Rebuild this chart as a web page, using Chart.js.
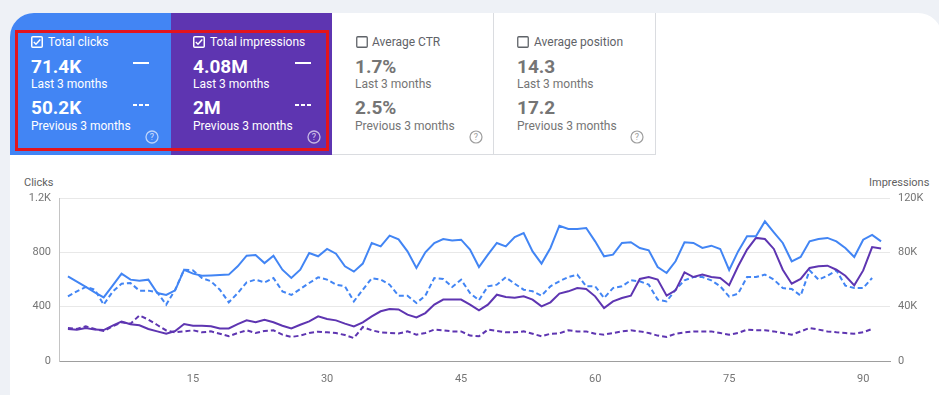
<!DOCTYPE html>
<html>
<head>
<meta charset="utf-8">
<script src="https://cdn.jsdelivr.net/npm/chart.js@4.4.1/dist/chart.umd.min.js"></script>
<style>
  html, body { margin: 0; padding: 0; }
  body {
    width: 939px; height: 395px; position: relative; overflow: hidden;
    background: #eef1f6; font-family: Roboto, "Noto Sans", sans-serif;
  }
  .card { position: absolute; left: 10px; top: 13px; width: 932px; height: 400px;
    background: #fff; border-radius: 24px 24px 0 0; }
  .tile { position: absolute; top: 13px; height: 142px; box-sizing: border-box; }
  .tile.blue { left: 10px; width: 161px; background: #4285f4; border-top-left-radius: 24px; color: #fff; }
  .tile.purple { left: 171px; width: 161px; background: #5e35b1; color: #fff; }
  .tile.grey { width: 162px; background: #fff; border-right: 1px solid #dadce0;
    border-bottom: 1px solid #dadce0; color: #757575; }
  .tile > * { position: absolute; white-space: nowrap; }
  .cb { top: 23px; width: 12px; height: 12px; }
  .ttl { top: 19px; line-height: 20px; font-size: 12px; }
  .val { line-height: 20px; font-size: 19px; font-weight: 700; }
  .sub { line-height: 20px; font-size: 12px; }
  .v1 { top: 44px; } .s1 { top: 61px; } .v2 { top: 85px; } .s2 { top: 103px; }
  .grey .ttl { color: #5f6368; }
  .line { left: 123px; top: 49px; width: 16px; height: 2px; background: #fff; }
  .dash { left: 123px; top: 91px; width: 16px; height: 2px;
    background: repeating-linear-gradient(90deg, #fff 0 4px, transparent 4px 6px); }
  .help { top: 117px; width: 14px; height: 14px; }
  .redbox { position: absolute; left: 15px; top: 30px; width: 314px; height: 121px;
    border: 3px solid #e3141c; box-sizing: border-box; }
  .axtitle { position: absolute; top: 175px; line-height: 16px; font-size: 11px; color: #616161; }
  #wrap { position: absolute; left: 0; top: 160px; width: 939px; height: 235px; }
</style>
</head>
<body>
<div class="card"></div>

<div class="tile blue">
  <svg class="cb" style="left:21px" viewBox="0 0 12 12"><rect x="0.75" y="0.75" width="10.5" height="10.5" rx="1" fill="none" stroke="#fff" stroke-width="1.5"/><polyline points="2.8,6 5,8.2 9.3,3.6" fill="none" stroke="#fff" stroke-width="1.5"/></svg>
  <div class="ttl" style="left:38px">Total clicks</div>
  <div class="val v1" style="left:21px">71.4K</div>
  <div class="line"></div>
  <div class="sub s1" style="left:21px">Last 3 months</div>
  <div class="val v2" style="left:21px">50.2K</div>
  <div class="dash"></div>
  <div class="sub s2" style="left:21px">Previous 3 months</div>
  <svg class="help" style="left:135px" viewBox="0 0 14 14"><circle cx="7" cy="7" r="6" fill="none" stroke="rgba(255,255,255,0.65)" stroke-width="1.3"/><text x="7" y="10.3" font-size="9" text-anchor="middle" fill="rgba(255,255,255,0.75)" font-family="Roboto">?</text></svg>
</div>

<div class="tile purple">
  <svg class="cb" style="left:22px" viewBox="0 0 12 12"><rect x="0.75" y="0.75" width="10.5" height="10.5" rx="1" fill="none" stroke="#fff" stroke-width="1.5"/><polyline points="2.8,6 5,8.2 9.3,3.6" fill="none" stroke="#fff" stroke-width="1.5"/></svg>
  <div class="ttl" style="left:39px">Total impressions</div>
  <div class="val v1" style="left:22px">4.08M</div>
  <div class="line" style="left:124px"></div>
  <div class="sub s1" style="left:22px">Last 3 months</div>
  <div class="val v2" style="left:22px">2M</div>
  <div class="dash" style="left:124px"></div>
  <div class="sub s2" style="left:22px">Previous 3 months</div>
  <svg class="help" style="left:136px" viewBox="0 0 14 14"><circle cx="7" cy="7" r="6" fill="none" stroke="rgba(255,255,255,0.65)" stroke-width="1.3"/><text x="7" y="10.3" font-size="9" text-anchor="middle" fill="rgba(255,255,255,0.75)" font-family="Roboto">?</text></svg>
</div>

<div class="tile grey" style="left:332px">
  <svg class="cb" style="left:24px" viewBox="0 0 12 12"><rect x="0.75" y="0.75" width="10.5" height="10.5" rx="1" fill="none" stroke="#5f6368" stroke-width="1.3"/></svg>
  <div class="ttl" style="left:40px">Average CTR</div>
  <div class="val v1" style="left:23px">1.7%</div>
  <div class="sub s1" style="left:23px">Last 3 months</div>
  <div class="val v2" style="left:23px">2.5%</div>
  <div class="sub s2" style="left:23px">Previous 3 months</div>
  <svg class="help" style="left:137px" viewBox="0 0 14 14"><circle cx="7" cy="7" r="6" fill="none" stroke="#9e9e9e" stroke-width="1.2"/><text x="7" y="10.3" font-size="9" text-anchor="middle" fill="#9e9e9e" font-family="Roboto">?</text></svg>
</div>

<div class="tile grey" style="left:494px">
  <svg class="cb" style="left:23px" viewBox="0 0 12 12"><rect x="0.75" y="0.75" width="10.5" height="10.5" rx="1" fill="none" stroke="#5f6368" stroke-width="1.3"/></svg>
  <div class="ttl" style="left:40px">Average position</div>
  <div class="val v1" style="left:23px">14.3</div>
  <div class="sub s1" style="left:23px">Last 3 months</div>
  <div class="val v2" style="left:23px">17.2</div>
  <div class="sub s2" style="left:23px">Previous 3 months</div>
  <svg class="help" style="left:136px" viewBox="0 0 14 14"><circle cx="7" cy="7" r="6" fill="none" stroke="#9e9e9e" stroke-width="1.2"/><text x="7" y="10.3" font-size="9" text-anchor="middle" fill="#9e9e9e" font-family="Roboto">?</text></svg>
</div>

<div class="redbox"></div>

<div class="axtitle" style="left:24px">Clicks</div>
<div class="axtitle" style="left:869px">Impressions</div>

<div id="wrap"><canvas id="perf"></canvas></div>

<script>
// Daily values
const clicks = [623, 585, 545, 505, 468, 555, 643, 599, 591, 599, 500, 486, 520, 672, 643, 628, 630, 633, 636, 697,
  775, 780, 721, 775, 672, 611, 672, 795, 771, 825, 790, 697, 658, 717, 869, 844, 923, 895, 807, 685,
  800, 869, 898, 888, 893, 820, 692, 783, 869, 844, 913, 942, 807, 717, 832, 996, 972, 972, 979, 881,
  771, 783, 869, 874, 832, 815, 692, 648, 734, 874, 869, 832, 849, 825, 670, 807, 918, 918, 1028, 947,
  869, 734, 766, 881, 898, 906, 881, 832, 766, 893, 928, 881];

const prevClicks = [476, 513, 545, 525, 415, 510, 569, 574, 518, 518, 505, 415, 525, 672, 667, 611, 587, 525, 432, 500,
  579, 599, 579, 611, 513, 486, 530, 574, 616, 599, 562, 550, 439, 525, 609, 599, 562, 481, 481, 427,
  481, 611, 604, 545, 599, 500, 447, 550, 562, 616, 569, 525, 513, 481, 550, 587, 618, 636, 550, 550,
  464, 537, 550, 594, 587, 562, 452, 439, 525, 594, 618, 618, 594, 550, 474, 496, 618, 618, 636, 599,
  537, 530, 481, 667, 599, 628, 667, 555, 537, 537, 611];

const impressions = [23600, 23100, 24300, 23100, 22800, 26000, 29000, 27000, 26300, 23600, 21800, 20100, 22100, 27200, 26000, 26000, 25500, 24000, 24000, 27200,
  29900, 28500, 30400, 28500, 26000, 24000, 26700, 29200, 32900, 30900, 29900, 27500, 25500, 28500, 32900, 36600, 38300, 38000, 34100, 32100,
  35300, 41500, 45200, 45200, 45200, 41500, 37300, 41500, 48800, 47100, 46600, 47600, 45200, 40200, 43200, 49600, 51300, 53700, 53000, 47600,
  39000, 43900, 46400, 48100, 60400, 61800, 59900, 48100, 52000, 65300, 61800, 63600, 61800, 61100, 55800, 69700, 82000, 90600, 89800, 82500,
  67200, 56900, 60400, 68500, 69700, 70200, 67200, 62800, 55700, 66700, 83900, 82900];

const prevImpressions = [24300, 23600, 25500, 23600, 22100, 25500, 28500, 27500, 33500, 30500, 26500, 22500, 21100, 21800, 22600, 21100, 21800, 20100, 18200, 20600,
  22600, 20600, 22100, 22600, 19400, 17700, 18700, 20600, 21600, 21100, 20600, 19100, 16900, 25000, 22600, 21100, 20600, 20300, 21800, 19400,
  20600, 23100, 22600, 21800, 21800, 18700, 18200, 23100, 22100, 21100, 21100, 21800, 20100, 18200, 20100, 20400, 22600, 21800, 21800, 20100,
  19400, 20600, 21800, 22600, 21800, 20600, 18700, 17700, 20100, 21100, 21800, 21800, 21800, 20600, 19400, 20600, 23100, 22600, 22600, 21800,
  20600, 19400, 21800, 24300, 23100, 21800, 21100, 20600, 20100, 21100, 23600];

// day index on the x axis (1..92)
const days = clicks.map((_, i) => i + 1);

const clickTicks = [0, 400, 800, 1200];
const clickTickLabels = ['0', '400', '800', '1.2K'];
const imprTicks = [0, 40000, 80000, 120000];
const imprTickLabels = ['0', '40K', '80K', '120K'];

const BLUE = '#4285f4';
const PURPLE = '#5e35b1';

function series(values, color, axis, dashed, order) {
    return {
        data: values.map((v, i) => ({ x: days[i], y: v })),
        borderColor: color,
        borderWidth: 2,
        borderDash: dashed ? [5, 3] : [],
        pointRadius: 0,
        tension: 0,
        fill: false,
        yAxisID: axis,
        order: order
    };
}

const tickFont = { family: 'Roboto', size: 11 };

new Chart(document.getElementById('perf').getContext('2d'), {
    type: 'line',
    data: {
        datasets: [
            series(clicks, BLUE, 'yClicks', false, 0),
            series(impressions, PURPLE, 'yImpr', false, 1),
            series(prevClicks, BLUE, 'yClicks', true, 2),
            series(prevImpressions, PURPLE, 'yImpr', true, 3)
        ]
    },
    options: {
        responsive: true,
        maintainAspectRatio: false,
        animation: false,
        layout: { padding: { top: 38, left: 0, right: 0, bottom: 0 } },
        plugins: { legend: { display: false }, tooltip: { enabled: false } },
        scales: {
            x: {
                type: 'linear',
                min: 0,
                max: 93,
                grid: { display: false, drawTicks: false },
                border: { display: true, color: '#9e9e9e', width: 1 },
                ticks: {
                    stepSize: 15,
                    includeBounds: false,
                    padding: 12,
                    color: '#757575',
                    font: tickFont,
                    maxRotation: 0,
                    callback: v => (v === 0 ? '' : v)
                },
                afterFit: s => { s.height = 34; }
            },
            yClicks: {
                position: 'left',
                min: 0,
                max: 1200,
                afterBuildTicks: s => { s.ticks = clickTicks.map(v => ({ value: v })); },
                grid: {
                    drawTicks: false,
                    color: ctx => (ctx.tick && ctx.tick.value === 0 ? 'rgba(0,0,0,0)' : '#e8e8e8')
                },
                border: { display: true, color: '#c4c4c4', width: 1 },
                ticks: {
                    padding: 8,
                    color: '#757575',
                    font: tickFont,
                    callback: (v, i) => clickTickLabels[i]
                },
                afterFit: s => { s.width = 59; }
            },
            yImpr: {
                position: 'right',
                min: 0,
                max: 120000,
                afterBuildTicks: s => { s.ticks = imprTicks.map(v => ({ value: v })); },
                grid: { drawOnChartArea: false, drawTicks: false },
                border: { display: false },
                ticks: {
                    padding: 8,
                    color: '#757575',
                    font: tickFont,
                    callback: (v, i) => imprTickLabels[i]
                },
                afterFit: s => { s.width = 49; }
            }
        }
    }
});
</script>
</body>
</html>
